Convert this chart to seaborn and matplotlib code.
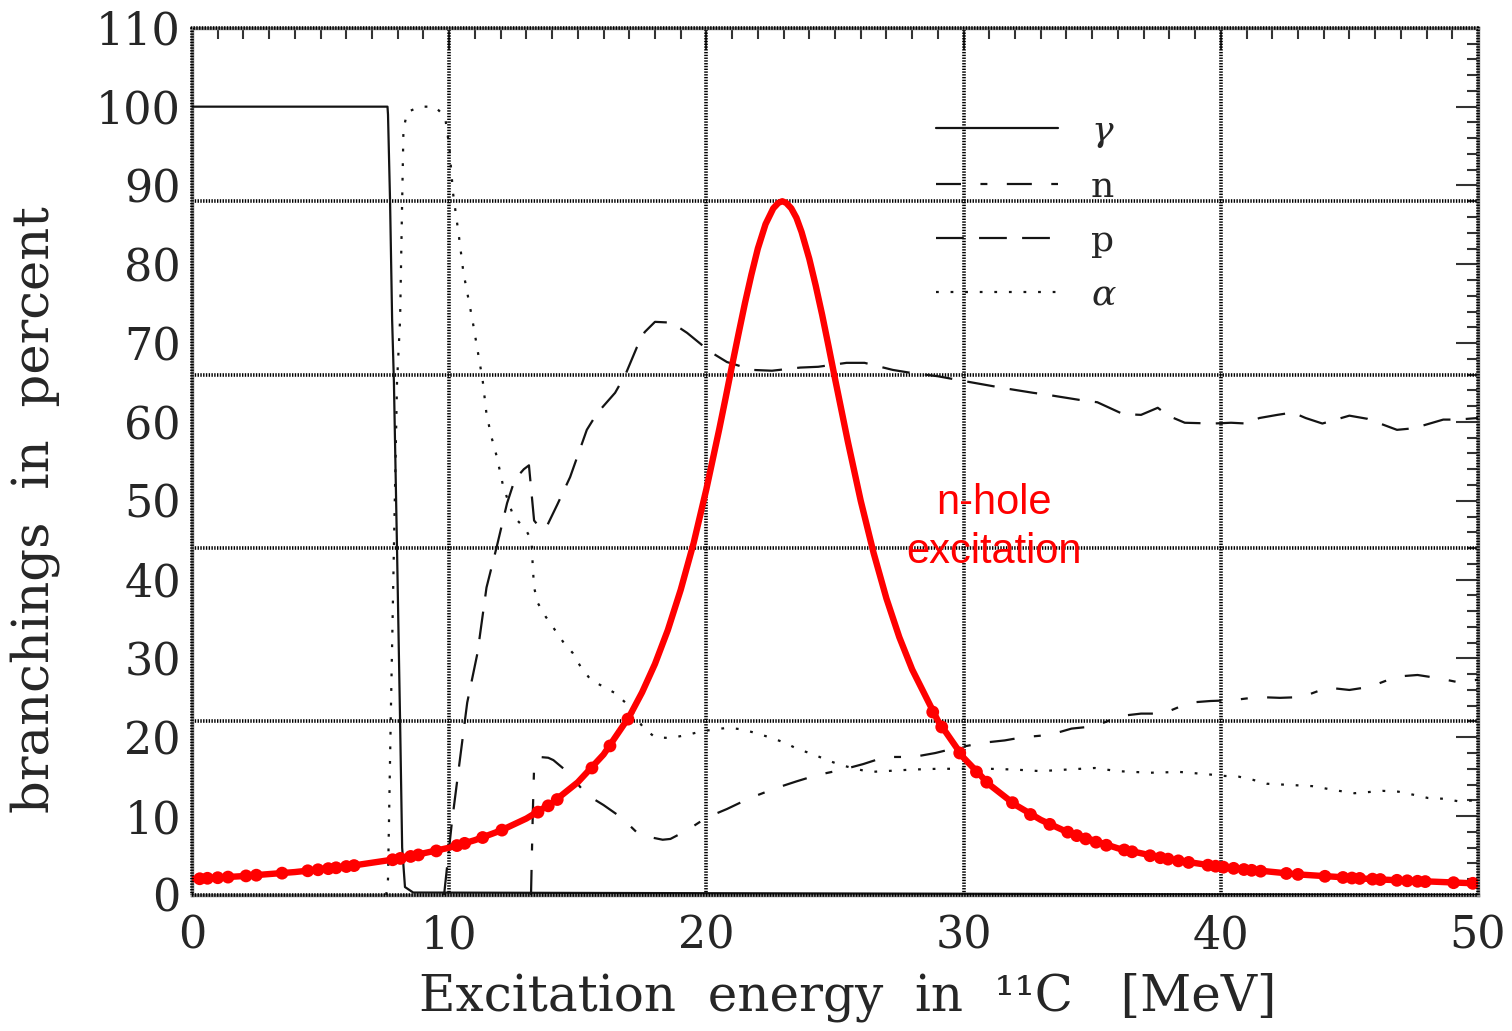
import numpy as np
import pandas as pd
import matplotlib
matplotlib.use("Agg")
import matplotlib.pyplot as plt
from matplotlib.ticker import MultipleLocator
from matplotlib.lines import Line2D
import seaborn as sns

# ---- branching ratios (percent) vs excitation energy (MeV) ----
gamma_x = [0, 7.6, 7.62, 7.7, 7.78, 7.85, 7.97, 8.09, 8.17, 8.28, 8.6, 50]
gamma_y = [100, 100, 99, 88, 73, 65, 44, 22, 6, 1, 0.3, 0]

n_x = [13.18, 13.25, 13.3, 13.5, 13.85, 14.05, 14.6, 15.35, 16.0, 16.7, 17.4, 17.7,
       18.3, 18.6, 19.25, 20.0, 20.8, 21.7, 22.75, 23.5, 24.3, 25.3, 26.1, 26.95,
       28.05, 28.9, 29.65, 30.75, 31.6, 32.3, 33.35, 34.2, 35.1, 36.1, 36.9, 37.75,
       38.8, 39.6, 40.45, 41.45, 42.3, 43.15, 44.15, 45.0, 45.8, 46.85, 47.65, 48.45,
       49.2, 50]
n_y = [0, 10.4, 16.2, 17.5, 17.4, 17.1, 15.6, 12.7, 11.4, 9.8, 7.6, 7.4,
       7.0, 7.1, 8.2, 9.8, 10.9, 12.3, 13.6, 14.4, 15.2, 15.9, 16.6, 17.5,
       17.5, 18.0, 18.6, 19.3, 19.6, 20.0, 20.3, 21.1, 21.4, 22.7, 23.0, 23.0,
       24.4, 24.6, 24.7, 25.1, 25.0, 25.1, 26.3, 26.0, 26.4, 27.7, 27.9, 27.5,
       27.0, 27.3]

p_x = [9.8, 10.1, 10.35, 10.7, 11.1, 11.45, 11.85, 12.25, 12.55, 12.9, 13.1, 13.2,
       13.3, 13.55, 13.8, 14.2, 14.7, 15.35, 15.75, 16.45, 16.85, 17.3, 17.6, 18.0,
       18.65, 19.25, 20.15, 20.8, 21.8, 22.55, 23.65, 24.35, 25.45, 26.15, 27.25, 28.0,
       29.0, 30.0, 31.55, 32.7, 33.35, 34.5, 35.2, 36.2, 36.9, 37.55, 37.95, 38.6,
       39.7, 40.4, 41.0, 41.5, 42.2, 42.8, 43.3, 43.95, 45.0, 45.7, 46.85, 47.5,
       48.65, 49.2, 50]
p_y = [0, 9.1, 15.5, 24.4, 30.7, 39, 44.2, 49.7, 52.7, 54, 54.5, 51,
       47.5, 46.5, 46.8, 49.5, 53, 59, 61.1, 63.7, 66, 69.5, 71.4, 72.7,
       72.6, 71.3, 68.9, 67.6, 66.6, 66.5, 66.9, 67, 67.5, 67.5, 66.6, 66.2,
       65.8, 65.2, 64.3, 63.7, 63.4, 62.8, 62.5, 61, 60.9, 61.8, 60.8, 59.9,
       59.8, 59.9, 59.8, 60.5, 60.9, 61.2, 60.5, 59.8, 60.8, 60.4, 59, 59.2,
       60.3, 60.3, 60.5]

alpha_x = [7.55, 7.62, 7.73, 7.85, 7.97, 8.09, 8.17, 8.22, 8.36, 8.86, 9.45, 9.84,
           10.0, 10.15, 10.4, 10.55, 10.9, 11.3, 11.45, 11.65, 11.85, 12.1, 12.5, 12.95,
           13.2, 13.25, 13.3, 13.45, 13.75, 14.05, 14.45, 14.8, 15.1, 15.5, 16.0, 16.45,
           16.85, 17.25, 17.55, 18.0, 18.6, 19.25, 19.75, 20.3, 20.85, 21.4, 21.95, 22.55,
           23.05, 23.55, 24.1, 24.7, 25.2, 25.8, 26.35, 26.95, 27.45, 28.0, 29.0, 30.0,
           31.0, 32.0, 33.0, 34.0, 35.1, 36.0, 37.25, 38.4, 39.5, 40.1, 40.7, 41.25,
           41.8, 42.4, 43.55, 44.6, 45.2, 46.3, 46.9, 47.5, 48.05, 48.65, 49.2, 50]
alpha_y = [0, 2, 23, 44, 65, 73, 88, 97, 99.3, 100, 100, 98.7,
           95, 89, 83, 79, 73, 65.3, 61, 58, 55.6, 51.8, 48, 46.5,
           45, 41.6, 39, 37, 35.3, 33.9, 32, 30.7, 29, 27.3, 26.4, 25.6,
           24.4, 22.6, 21.2, 20.0, 19.9, 20.3, 20.7, 21.0, 21.2, 21.0, 20.5, 19.9,
           19.3, 18.5, 17.9, 17.1, 16.5, 16.0, 15.6, 15.7, 15.8, 15.9, 16.0, 16.0,
           16.0, 15.9, 15.7, 15.9, 16.1, 15.7, 15.5, 15.6, 15.3, 15.1, 15.0, 14.6,
           14.1, 14.0, 13.8, 13.2, 12.9, 13.2, 13.1, 12.7, 12.3, 12.2, 11.9, 12.0]

# ---- n-hole excitation strength (same vertical scale) ----
hole_x = [0, 2, 4, 6, 8, 10, 11, 12, 13, 14, 15, 16, 17, 17.5, 18, 18.5, 19, 19.5,
          20, 20.5, 20.75, 21, 21.25, 21.5, 21.75, 22, 22.3, 22.6, 22.8, 22.95, 23.1,
          23.3, 23.5, 23.7, 24, 24.25, 24.5, 24.75, 25, 25.25, 25.5, 26, 26.5,
          27, 27.5, 28, 29, 30, 31, 32, 33, 34, 36, 38, 40, 43, 46, 50]
hole_y = [2.0, 2.39, 2.9, 3.6, 4.57, 5.99, 6.95, 8.16, 9.69, 11.67, 14.29, 17.81,
          22.62, 25.7, 29.3, 33.6, 38.7, 44.6, 51.5, 59.1, 63.1, 67.2, 71.2, 75.1,
          78.7, 82.0, 85.1, 87.1, 87.8, 88.0, 87.8, 87.1, 85.9, 84.1, 80.7, 77.3,
          73.6, 69.6, 65.5, 61.5, 57.5, 50.0, 43.4, 37.6, 32.7, 28.6, 22.1,
          17.4, 14.0, 11.45, 9.52, 8.02, 5.91, 4.52, 3.56, 2.6, 1.98, 1.45]

hole_pts_x = [0.3, 0.6, 1.0, 1.4, 2.1, 2.5, 3.5, 4.5, 4.9, 5.3, 5.6, 6.0, 6.3,
              7.8, 8.1, 8.5, 8.8, 9.5, 10.3, 10.6, 11.3, 12.05, 13.45, 13.85, 14.2,
              15.55, 16.25, 16.95, 28.8, 29.15, 29.85, 30.5, 30.9, 31.9, 32.6, 33.35,
              34.05, 34.4, 34.75, 35.15, 35.55, 36.25, 36.55, 37.25, 37.65, 37.95,
              38.35, 38.75, 39.5, 39.8, 40.1, 40.5, 40.9, 41.2, 41.55, 42.55, 43.0,
              44.05, 44.75, 45.1, 45.4, 45.9, 46.2, 46.85, 47.25, 47.65, 47.95, 49.05,
              49.8]
hole_pts_y = [2.05, 2.11, 2.18, 2.26, 2.41, 2.5, 2.76, 3.06, 3.19, 3.33, 3.44, 3.6,
              3.72, 4.46, 4.63, 4.88, 5.07, 5.58, 6.26, 6.54, 7.28, 8.22, 10.5, 11.3,
              12.1, 16.1, 18.9, 22.3, 23.2, 21.3, 18.0, 15.6, 14.3, 11.7, 10.2, 8.95,
              7.96, 7.52, 7.11, 6.69, 6.3, 5.7, 5.47, 4.97, 4.72, 4.54, 4.32, 4.12,
              3.77, 3.64, 3.52, 3.37, 3.22, 3.12, 3.01, 2.72, 2.6, 2.36, 2.21, 2.14,
              2.09, 2.0, 1.95, 1.85, 1.79, 1.73, 1.69, 1.55, 1.47]

x_ticks = [0, 10, 20, 30, 40, 50]
y_ticks = list(range(0, 111, 10))
grid_y = [22, 44, 66, 88]
grid_x = [10, 20, 30, 40]

# ---- style ----
sns.set_style("white")
plt.rcParams["font.family"] = ["DejaVu Serif", "DejaVu Sans"]
plt.rcParams["mathtext.fontset"] = "dejavuserif"
plt.rcParams["lines.scale_dashes"] = False

fig = plt.figure(figsize=(15.12, 10.31), dpi=100)
ax = fig.add_axes([0.127, 0.132, 0.8505, 0.841])

ink = "#141414"
lw = 1.6
dash_n = (0, (18, 14, 5, 14))
dash_p = (0, (20, 11))
dash_a = (0, (2.0, 8.5))

series = [
    ("$\\gamma$", gamma_x, gamma_y, "-"),
    ("n", n_x, n_y, dash_n),
    ("p", p_x, p_y, dash_p),
    ("$\\alpha$", alpha_x, alpha_y, dash_a),
]
for name, xs, ys, ls in series:
    df = pd.DataFrame({"E": xs, "B": ys})
    sns.lineplot(data=df, x="E", y="B", ax=ax, color=ink, lw=lw,
                 linestyle=ls, estimator=None, sort=False, zorder=3)

# n-hole excitation curve and points
hole = pd.DataFrame({"E": hole_x, "B": hole_y})
sns.lineplot(data=hole, x="E", y="B", ax=ax, color="#ff0000", lw=4.6,
             estimator=None, sort=False, zorder=5)
pts = pd.DataFrame({"E": hole_pts_x, "B": hole_pts_y})
sns.scatterplot(data=pts, x="E", y="B", ax=ax, color="#ff0000", s=85,
                edgecolor="none", zorder=5)

ax.text(31.2, 46.6, "n-hole\nexcitation", color="#ff0000", fontsize=30,
        family=["Liberation Sans", "DejaVu Sans"], ha="center", va="center",
        multialignment="center", linespacing=1.3, zorder=6)

# grid
for g in grid_y:
    ax.axhline(g, color="black", lw=2.6, ls=(0, (1, 1)), zorder=1)
for g in grid_x:
    ax.axvline(g, color="black", lw=2.6, ls=(0, (1, 1)), zorder=1)

# axes
ax.set_xlim(0, 50)
ax.set_ylim(0, 110)
ax.set_xticks(x_ticks)
ax.set_yticks(y_ticks)
ax.xaxis.set_minor_locator(MultipleLocator(1))
ax.yaxis.set_minor_locator(MultipleLocator(2))
ax.tick_params(which="major", direction="in", length=16, width=1.5, color="#333333",
               top=True, right=True, labelsize=32, pad=8)
ax.tick_params(which="minor", direction="in", length=8, width=1.5, color="#333333",
               top=True, right=True)
ax.tick_params(axis="x", which="major", pad=14)
for s in ax.spines.values():
    s.set_color("#888888")
    s.set_linewidth(2.5)
ax.plot([0, 1, 1, 0, 0], [0, 0, 1, 1, 0], transform=ax.transAxes, color="black",
        lw=2.6, ls=(0, (1, 1)), clip_on=False, zorder=6)

ax.set_xlabel("Excitation  energy  in  ¹¹C   [MeV]", fontsize=36)
ax.set_ylabel("branchings  in  percent", fontsize=37)
ax.xaxis.set_label_coords(0.51, -0.09)
ax.yaxis.set_label_coords(-0.103, 0.444)

handles = [Line2D([], [], color=ink, lw=lw, linestyle=ls) for _, _, _, ls in series]
labels = [s[0] for s in series]
ax.legend(handles, labels, loc="upper left", bbox_to_anchor=(0.553, 0.938),
          frameon=False, fontsize=26, handlelength=3.4, handletextpad=0.9,
          labelspacing=0.55)

fig.savefig("out.png", dpi=100, facecolor="white")
